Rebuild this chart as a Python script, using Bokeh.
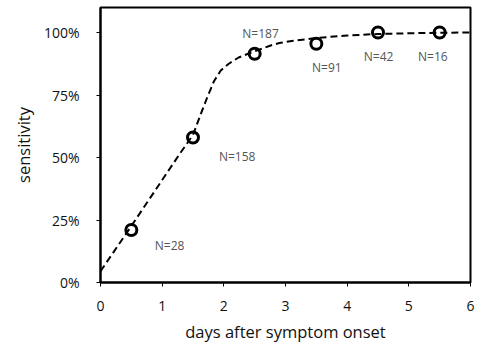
from bokeh.plotting import figure
from bokeh.models import Range1d, FixedTicker, NumeralTickFormatter, ColumnDataSource
from bokeh.core.properties import value
from bokeh.embed import file_html
from bokeh.resources import INLINE

# observed points
days = [0.5, 1.5, 2.5, 3.5, 4.5, 5.5]
sensitivity = [0.21, 0.58, 0.915, 0.955, 1.0, 1.0]
n_labels = ["N=28", "N=158", "N=187", "N=91", "N=42", "N=16"]
label_x = [0.88, 1.92, 2.30, 3.43, 4.27, 5.15]
label_y = [0.15, 0.505, 0.995, 0.862, 0.906, 0.906]

# fitted curve
curve_x = [0, 0.5, 1.0, 1.3, 1.5, 1.62, 1.73, 1.84, 1.95, 2.08, 2.24, 2.5,
           2.76, 2.9, 3.1, 3.5, 4.0, 4.5, 5.0, 5.5, 6.0]
curve_y = [0.045, 0.226, 0.41, 0.52, 0.59, 0.67, 0.74, 0.805, 0.848, 0.875, 0.9, 0.925,
           0.948, 0.958, 0.966, 0.978, 0.988, 0.994, 0.997, 0.999, 1.0]

x_ticks = [0, 1, 2, 3, 4, 5, 6]
y_ticks = [0, 0.25, 0.5, 0.75, 1.0]

FONT = "Open Sans"

p = figure(width=475, height=345, output_backend="svg", toolbar_location=None,
           x_range=Range1d(0, 6), y_range=Range1d(0, 1.1),
           min_border_left=100, min_border_right=5, min_border_top=7, min_border_bottom=58)
p.grid.visible = False
p.background_fill_color = "white"
p.border_fill_color = "white"
p.outline_line_color = "black"
p.outline_line_width = 2

p.line(curve_x, curve_y, line_color="black", line_width=2, line_dash="7 4")
p.scatter(days, sensitivity, size=11, line_color="black", line_width=3, fill_alpha=0)

src = ColumnDataSource(dict(x=label_x, y=label_y, t=n_labels))
p.text(x="x", y="y", text="t", source=src, text_font=value(FONT), text_font_size="12px",
       text_color="#555555", text_baseline="middle", text_align="left")

for ax in (p.xaxis[0], p.yaxis[0]):
    ax.axis_line_color = "black"
    ax.axis_line_width = 2
    ax.major_tick_line_color = "black"
    ax.major_tick_line_width = 1
    ax.major_tick_in = 0
    ax.major_tick_out = 4
    ax.minor_tick_line_color = None
    ax.major_label_text_font = FONT
    ax.major_label_text_font_size = "14px"
    ax.major_label_text_color = "#111111"
    ax.axis_label_text_font = FONT
    ax.axis_label_text_font_size = "16.5px"
    ax.axis_label_text_font_style = "normal"
    ax.axis_label_text_color = "#111111"

p.xaxis.ticker = FixedTicker(ticks=x_ticks)
p.yaxis.ticker = FixedTicker(ticks=y_ticks)
p.yaxis.formatter = NumeralTickFormatter(format="0%")
p.xaxis.axis_label = "days after symptom onset"
p.yaxis.axis_label = "sensitivity"
p.xaxis.major_label_standoff = 14
p.yaxis.major_label_standoff = 17
p.xaxis.axis_label_standoff = 6
p.yaxis.axis_label_standoff = 6

open("out.html", "w").write(file_html(p, INLINE))
